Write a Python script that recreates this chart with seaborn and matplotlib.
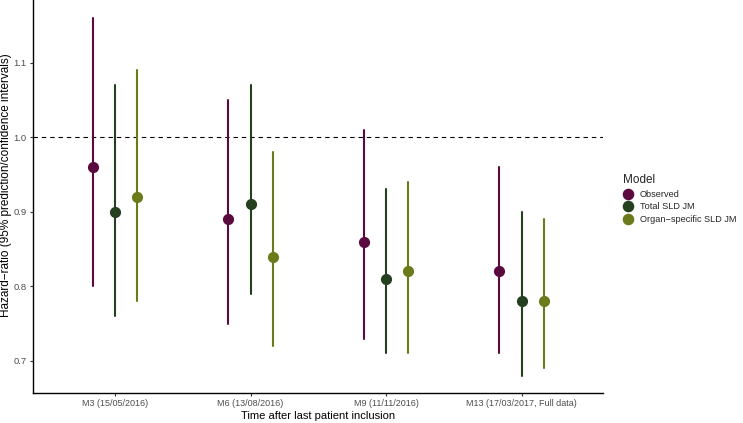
import numpy as np
import pandas as pd
import matplotlib
matplotlib.use("Agg")
import matplotlib.pyplot as plt
import seaborn as sns

times = ["M3 (15/05/2016)", "M6 (13/08/2016)", "M9 (11/11/2016)", "M13 (17/03/2017, Full data)"]
models = ["Observed", "Total SLD JM", "Organ\u2212specific SLD JM"]
colors = ["#5b0a40", "#24401f", "#6b7a1a"]

obs_est = [0.96, 0.89, 0.86, 0.82]
obs_low = [0.80, 0.75, 0.73, 0.71]
obs_high = [1.16, 1.05, 1.01, 0.96]

tot_est = [0.90, 0.91, 0.81, 0.78]
tot_low = [0.76, 0.79, 0.71, 0.68]
tot_high = [1.07, 1.07, 0.93, 0.90]

org_est = [0.92, 0.84, 0.82, 0.78]
org_low = [0.78, 0.72, 0.71, 0.69]
org_high = [1.09, 0.98, 0.94, 0.89]

rows = []
for m, est, low, high in [(models[0], obs_est, obs_low, obs_high),
                          (models[1], tot_est, tot_low, tot_high),
                          (models[2], org_est, org_low, org_high)]:
    for t, e, l, h in zip(times, est, low, high):
        for v in (l, e, h):
            rows.append({"time": t, "Model": m, "hr": v})
df = pd.DataFrame(rows)

sns.set_style("white")
plt.rcParams["font.family"] = ["Liberation Sans", "DejaVu Sans"]

W, H = 743, 423
fig = plt.figure(figsize=(W / 100, H / 100), dpi=100)
ax = fig.add_axes([33 / W, (H - 393) / H, (603 - 33) / W, 393 / H])

sns.pointplot(data=df, x="time", y="hr", hue="Model", order=times, hue_order=models,
              palette=colors, estimator="median", errorbar=("pi", 100),
              dodge=0.33, linestyle="none", markers="o", markersize=6,
              err_kws={"linewidth": 1.5}, ax=ax)

ax.axhline(1.0, color="black", linestyle=(0, (4, 3.5)), linewidth=0.8, zorder=0)

ax.set_xlim(-0.605, 3.6)
ax.set_ylim(0.657, 1.184)
ax.set_yticks([0.7, 0.8, 0.9, 1.0, 1.1])
ax.set_yticklabels(["0.7", "0.8", "0.9", "1.0", "1.1"])

for s in ["top", "right"]:
    ax.spines[s].set_visible(False)
for s in ["left", "bottom"]:
    ax.spines[s].set_color("black")
    ax.spines[s].set_linewidth(1.0)

ax.tick_params(axis="both", which="both", length=2.5, width=0.8, color="#333333",
               labelsize=6.5, labelcolor="#4d4d4d", direction="out", bottom=True, left=True, pad=2)
ax.tick_params(axis="y", labelsize=6.8)

ax.set_xlabel("Time after last patient inclusion", fontsize=8, color="black", labelpad=2)
ax.set_ylabel("Hazard\u2212ratio (95% prediction/confidence intervals)", fontsize=8.5, color="black")
ax.yaxis.set_label_coords(-21 / (603 - 33), (393 - 185) / 393)

ax.get_legend().remove()
handles, labels = ax.get_legend_handles_labels()
leg = fig.legend(handles, labels, title="Model", loc="upper left",
                 bbox_to_anchor=(617 / W, 1 - 168 / H),
                 frameon=False, fontsize=6.6, title_fontsize=8.5, handletextpad=0.8,
                 labelspacing=0.38, handlelength=1.0, borderpad=0.2, markerscale=1.05)
leg._legend_box.align = "left"

fig.savefig("out.png", dpi=100)
